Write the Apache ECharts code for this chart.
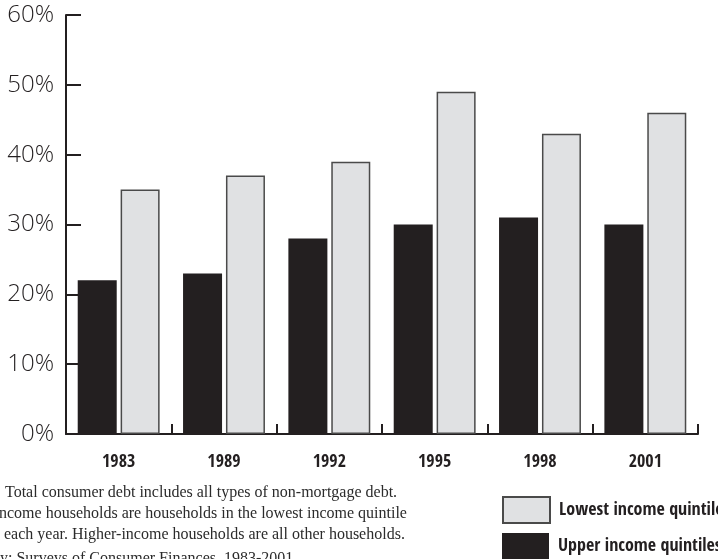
<!DOCTYPE html>
<html>
<head>
<meta charset="utf-8">
<script src="https://cdn.jsdelivr.net/npm/echarts@6/dist/echarts.min.js"></script>
<style>
  html, body { margin: 0; padding: 0; background: #fff; }
  #chart { width: 718px; height: 559px; }
</style>
</head>
<body>
<div id="chart"></div>
<script>
// Share of income spent servicing consumer debt, by income group
const years = ['1983', '1989', '1992', '1995', '1998', '2001'];
const upperIncome = [22, 23, 28, 30, 31, 30];
const lowestIncome = [35, 37, 39, 49, 43, 46];
const yTicks = [0, 10, 20, 30, 40, 50, 60];
const noteLines = [
  'Note: Total consumer debt includes all types of non-mortgage debt.',
  'Lower-income households are households in the lowest income quintile',
  'in each year. Higher-income households are all other households.',
  'Source: Federal Reserve Board Survey: Surveys of Consumer Finances, 1983-2001'
];

const INK = '#231f20';
const narrowBold = "'Liberation Sans Narrow', 'Noto Sans Condensed', 'Open Sans Condensed', 'Roboto Condensed', 'DejaVu Sans Condensed', sans-serif";
const noteFont = "16px 'Liberation Serif', 'Times New Roman', serif";

// The notes block runs past the left edge: each line is placed so that the
// given word lands at the given x.
const noteAnchors = [['Total', 5], ['ncome', -1], ['each', 4], ['y: Surveys', 0]];
const noteY = [495, 516, 537, 561];
const measureCtx = document.createElement('canvas').getContext('2d');
measureCtx.font = noteFont;
function lineLeft(i) {
  const line = noteLines[i];
  const [word, x] = noteAnchors[i];
  const lead = line.slice(0, line.indexOf(word));
  return x - measureCtx.measureText(lead).width;
}

const chart = echarts.init(document.getElementById('chart'), null, { renderer: 'canvas' });

const legendText = { color: INK, fontFamily: narrowBold, fontWeight: 'bold', fontSize: 18, padding: [0, 0, 0, 4] };

chart.setOption({
  animation: false,
  backgroundColor: '#ffffff',
  grid: { left: 66, right: 20, top: 15, bottom: 125, containLabel: false },
  legend: [
    {
      left: 497, top: 491, itemWidth: 47, itemHeight: 26, icon: 'rect',
      data: ['Lowest income quintile'], textStyle: legendText
    },
    {
      left: 497, top: 528, itemWidth: 47, itemHeight: 26, icon: 'rect',
      data: ['Upper income quintiles'], textStyle: legendText
    }
  ],
  xAxis: {
    type: 'category',
    data: years,
    axisLine: { lineStyle: { color: INK, width: 2 } },
    axisTick: { show: true, inside: true, length: 10, lineStyle: { color: INK, width: 2 } },
    axisLabel: { color: INK, fontFamily: narrowBold, fontWeight: 'bold', fontSize: 18, margin: 19 }
  },
  yAxis: {
    type: 'value',
    min: yTicks[0],
    max: yTicks[yTicks.length - 1],
    interval: 10,
    splitLine: { show: false },
    axisLine: { show: true, lineStyle: { color: INK, width: 2 } },
    axisTick: { show: true, inside: true, length: 15, lineStyle: { color: INK, width: 2 } },
    axisLabel: {
      color: INK,
      fontFamily: "'Open Sans', sans-serif",
      fontWeight: 300,
      fontSize: 24,
      margin: 12,
      formatter: v => v + '%'
    }
  },
  series: [
    {
      name: 'Upper income quintiles',
      type: 'bar',
      data: upperIncome,
      barWidth: 39,
      barGap: '10%',
      itemStyle: { color: INK }
    },
    {
      name: 'Lowest income quintile',
      type: 'bar',
      data: lowestIncome,
      barWidth: 39,
      itemStyle: { color: '#e0e1e3', borderColor: '#4a4a4a', borderWidth: 1.5 }
    }
  ],
  graphic: noteLines.map((line, i) => ({
    type: 'text',
    left: lineLeft(i),
    top: noteY[i] - 10,
    silent: true,
    style: { text: line, fill: '#2b2b2b', font: noteFont }
  }))
});
</script>
</body>
</html>
